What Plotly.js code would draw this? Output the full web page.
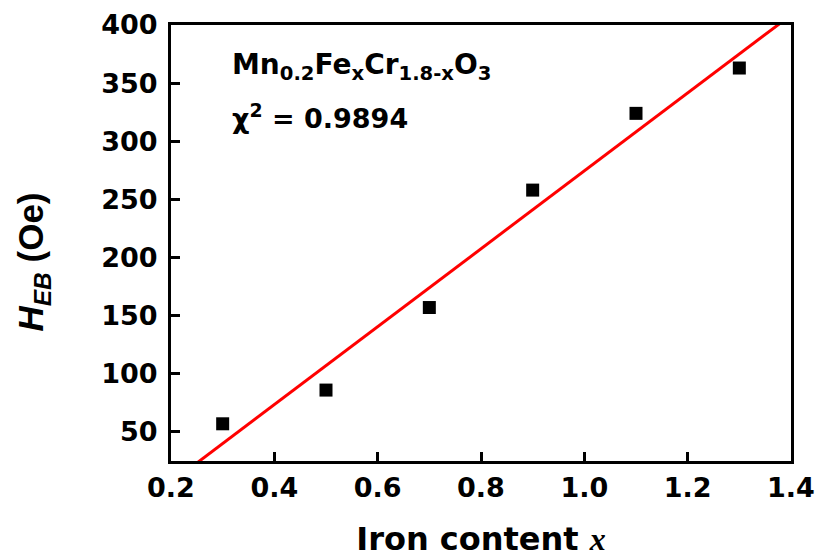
<!DOCTYPE html>
<html>
<head>
<meta charset="utf-8">
<script src="https://cdn.plot.ly/plotly-3.0.1.min.js"></script>
<style>html,body{margin:0;padding:0;background:#fff;}#chart{width:820px;height:558px;}</style>
</head>
<body>
<div id="chart"></div>
<script>
// Data
const ironContent = [0.3, 0.5, 0.7, 0.9, 1.1, 1.3];
const hEB = [57, 86, 157, 258, 324, 363];
const xTicks = [0.2, 0.4, 0.6, 0.8, 1.0, 1.2, 1.4];
const xTickLabels = ['0.2', '0.4', '0.6', '0.8', '1.0', '1.2', '1.4'];
const yTicks = [50, 100, 150, 200, 250, 300, 350, 400];
const fitRange = [0.2, 1.4];

// Linear least-squares fit of the data
const n = ironContent.length;
const mx = ironContent.reduce((a, b) => a + b, 0) / n;
const my = hEB.reduce((a, b) => a + b, 0) / n;
let sxy = 0, sxx = 0;
for (let i = 0; i < n; i++) {
  sxy += (ironContent[i] - mx) * (hEB[i] - my);
  sxx += (ironContent[i] - mx) ** 2;
}
const slope = sxy / sxx;
const intercept = my - slope * mx;
const fitY = fitRange.map(x => intercept + slope * x);

const FONT = 'DejaVu Sans, Liberation Sans, Arial, sans-serif';
const ARIAL = 'Liberation Sans, Arial, sans-serif';

const traces = [
  {
    x: fitRange, y: fitY, mode: 'lines', type: 'scatter',
    line: {color: '#ff0000', width: 3}, hoverinfo: 'skip', showlegend: false
  },
  {
    x: ironContent, y: hEB, mode: 'markers', type: 'scatter',
    marker: {symbol: 'square', size: 13, color: '#000000'}, showlegend: false
  }
];

const axisCommon = {
  showline: true, mirror: true, linecolor: '#000', linewidth: 3,
  ticks: 'inside', ticklen: 9, tickwidth: 3, tickcolor: '#000',
  showgrid: false, zeroline: false
};

const layout = {
  width: 820, height: 558,
  margin: {l: 171, r: 29, t: 25, b: 97},
  paper_bgcolor: '#fff', plot_bgcolor: '#fff',
  showlegend: false,
  xaxis: Object.assign({}, axisCommon, {
    range: [0.2, 1.4], tickmode: 'array', tickvals: xTicks, ticktext: xTickLabels,
    tickfont: {family: FONT, size: 27, color: '#000', weight: 'bold'},
    ticklabelstandoff: 1,
    title: {
      text: 'Iron content <span style="font-family:\'Liberation Serif\', serif"><i>x</i></span>',
      font: {family: FONT, size: 32, color: '#000', weight: 'bold'},
      standoff: 28
    }
  }),
  yaxis: Object.assign({}, axisCommon, {
    range: [25, 400], tickmode: 'array', tickvals: yTicks,
    tickfont: {family: FONT, size: 27, color: '#000', weight: 'bold'},
    ticklabelstandoff: 5
  }),
  annotations: [
    {
      xref: 'paper', yref: 'paper', x: -0.222, y: 0.456, xanchor: 'center', yanchor: 'middle',
      showarrow: false, textangle: -90,
      text: '<i>H</i><sub><i>EB</i></sub> (Oe)',
      font: {family: ARIAL, size: 35, color: '#000', weight: 'bold'}
    },
    {
      xref: 'paper', yref: 'paper', x: 0.095, y: 0.904, xanchor: 'left', yanchor: 'middle',
      showarrow: false,
      text: 'Mn<sub>0.2</sub>Fe<sub>x</sub>Cr<sub>1.8-x</sub>O<sub>3</sub>',
      font: {family: FONT, size: 28, color: '#000', weight: 'bold'}
    },
    {
      xref: 'paper', yref: 'paper', x: 0.095, y: 0.79, xanchor: 'left', yanchor: 'middle',
      showarrow: false,
      text: 'χ<sup>2</sup> = 0.9894',
      font: {family: FONT, size: 27, color: '#000', weight: 'bold'}
    }
  ]
};

Plotly.newPlot('chart', traces, layout, {staticPlot: true, displayModeBar: false});
</script>
</body>
</html>
